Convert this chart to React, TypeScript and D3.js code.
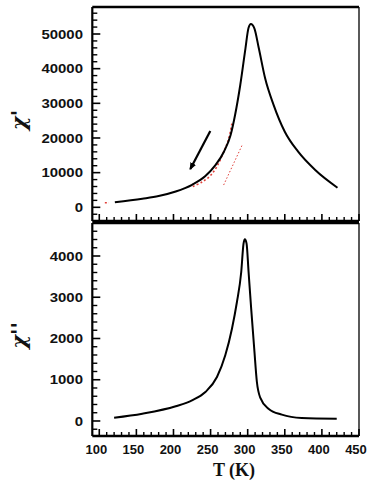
import React from 'react';
import * as d3 from 'd3';

const chi1T = [121, 158, 180, 203, 225, 243, 256, 268, 277, 283, 290, 297, 301, 304.3, 309, 315, 323.5, 335, 350, 368, 391, 421];
const chi1V = [1440, 2480, 3250, 4550, 6500, 9000, 12000, 16040, 20860, 26630, 35290, 45870, 51640, 52890, 51640, 45870, 37220, 29500, 21810, 16040, 10760, 5650];

// chi'' (imaginary part)
const chi2T = [120, 158, 203, 225, 243, 258.6, 269.8, 278.8, 285.5, 291.3, 294.4, 296.2, 298.5, 301.2, 304.7, 308.8, 312.4, 316.9, 328, 346, 372.8, 420];
const chi2V = [80, 177, 356, 501, 703, 1067, 1592, 2238, 2885, 3612, 4300, 4404, 4300, 3612, 2723, 1753, 945, 566, 299, 153, 73, 57];

// red dotted traces in the top panel
const redCurveT = [226, 238.4, 249.6, 258.6, 267.6, 274.3, 279];
const redCurveV = [6000, 7300, 9100, 11800, 16000, 19700, 24500];
const redDashT = [107.5, 113];
const redDashV = [1300, 1300];
const redLineT = [267.6, 292.2];
const redLineV = [6430, 17800];

// arrow (start -> end, head at end)
const arrowT = [249.6, 222.7];
const arrowV = [22010, 11050];

const xTicks = [100, 150, 200, 250, 300, 350, 400, 450];
const topTicks = [0, 10000, 20000, 30000, 40000, 50000];
const botTicks = [0, 1000, 2000, 3000, 4000];

const W = 374;
const H = 495;
const L = 92.3;
const R = 359;
const TOP = { y0: 7, y1: 221 };
const BOT = { y0: 223, y1: 436 };

const x = d3.scaleLinear().domain([90.6, 450]).range([L, R]);
const yTop = d3.scaleLinear().domain([-3950, 57790]).range([TOP.y1, TOP.y0]);
const yBot = d3.scaleLinear().domain([-364, 4800]).range([BOT.y1, BOT.y0]);

const zip = (a: number[], b: number[]) => a.map((t, i) => [t, b[i]] as [number, number]);

function Panel({ y, y0, y1, ticks, minorStep, label, children, showX }: any) {
  const [lo, hi] = y.domain();
  const minors = d3.range(Math.ceil(lo / minorStep) * minorStep, hi, minorStep).filter((v: number) => !ticks.includes(v));
  const xMinors = d3.range(100, 450, 10).filter((v: number) => !xTicks.includes(v));
  return (
    <g>
      {children}
      {/* left ticks */}
      {minors.map((v: number) => (
        <line key={'m' + v} x1={L} x2={L + 5} y1={y(v)} y2={y(v)} stroke="#000" strokeWidth={1.4} />
      ))}
      {ticks.map((v: number) => (
        <g key={'t' + v}>
          <line x1={L} x2={L + 8} y1={y(v)} y2={y(v)} stroke="#000" strokeWidth={1.6} />
          <text
            transform={`translate(83,${y(v)}) scale(1.15,1)`}
            dy="0.36em"
            textAnchor="end"
            fontFamily="'Liberation Sans', Arial, sans-serif"
            fontWeight="bold"
            fontSize={13}
            fill="#111"
          >
            {v}
          </text>
        </g>
      ))}
      {/* bottom ticks */}
      {xMinors.map((v: number) => (
        <line key={'xm' + v} x1={x(v)} x2={x(v)} y1={y1} y2={y1 - 4} stroke="#000" strokeWidth={1.4} />
      ))}
      {xTicks.map((v: number) => (
        <line key={'xt' + v} x1={x(v)} x2={x(v)} y1={y1} y2={y1 - 7} stroke="#000" strokeWidth={1.6} />
      ))}
      {showX &&
        xTicks.map((v: number) => (
          <text
            key={'xl' + v}
            x={x(v) - 3}
            y={454}
            textAnchor="middle"
            fontFamily="'Liberation Sans', Arial, sans-serif"
            fontWeight="bold"
            fontSize={13}
            fill="#111"
          >
            {v}
          </text>
        ))}
      {/* frame */}
      <line x1={L} x2={R} y1={y0} y2={y0} stroke="#000" strokeWidth={2.5} />
      <line x1={R} x2={R} y1={y0} y2={y1} stroke="#000" strokeWidth={1.3} />
      <line x1={L} x2={L} y1={y0} y2={y1} stroke="#000" strokeWidth={2.2} />
      <line x1={L} x2={R} y1={y1} y2={y1} stroke="#000" strokeWidth={2.5} />
      <text
        transform={`translate(26,${(y0 + y1) / 2 + 6}) rotate(-90)`}
        textAnchor="middle"
        fontFamily="'DejaVu Serif', 'Liberation Serif', serif"
        fontWeight="bold"
        fontStyle="italic"
        fontSize={21}
        fill="#111"
      >
        {label}
      </text>
    </g>
  );
}

export default function App() {
  const lineTop = d3.line<[number, number]>().x(d => x(d[0])).y(d => yTop(d[1])).curve(d3.curveMonotoneX);
  const lineBot = d3.line<[number, number]>().x(d => x(d[0])).y(d => yBot(d[1])).curve(d3.curveMonotoneX);
  const lineRed = d3.line<[number, number]>().x(d => x(d[0])).y(d => yTop(d[1])).curve(d3.curveCatmullRom);

  return (
    <svg width={W} height={H} style={{ position: 'absolute', left: 0, top: 0, background: '#fff' }}>
      <defs>
        <marker id="ah" viewBox="0 0 10 10" refX="8" refY="5" markerWidth="3.5" markerHeight="3.5" orient="auto">
          <path d="M0,1 L10,5 L0,9 z" fill="#000" />
        </marker>
      </defs>
      <rect width={W} height={H} fill="#fff" />
      <Panel y={yTop} y0={TOP.y0} y1={TOP.y1} ticks={topTicks} minorStep={2000} label={"χ'"}>
        <path d={lineRed(zip(redDashT, redDashV)) || ''} fill="none" stroke="#e0403a" strokeWidth={1.5} strokeDasharray="2,2" />
        <path d={lineRed(zip(redCurveT, redCurveV)) || ''} fill="none" stroke="#e0403a" strokeWidth={1.6} strokeDasharray="2,2.2" />
        <path d={lineRed(zip(redLineT, redLineV)) || ''} fill="none" stroke="#e0403a" strokeWidth={1} strokeDasharray="1.5,2" />
        <path d={lineTop(zip(chi1T, chi1V)) || ''} fill="none" stroke="#000" strokeWidth={2} />
        <line
          x1={x(arrowT[0])}
          y1={yTop(arrowV[0])}
          x2={x(arrowT[1])}
          y2={yTop(arrowV[1])}
          stroke="#000"
          strokeWidth={2.2}
          markerEnd="url(#ah)"
        />
      </Panel>
      <Panel y={yBot} y0={BOT.y0} y1={BOT.y1} ticks={botTicks} minorStep={200} label={"χ''"} showX>
        <path d={lineBot(zip(chi2T, chi2V)) || ''} fill="none" stroke="#000" strokeWidth={2} />
      </Panel>
      <text
        x={234}
        y={476}
        textAnchor="middle"
        fontFamily="'Liberation Serif', 'Times New Roman', serif"
        fontWeight="bold"
        fontSize={18}
        fill="#111"
      >
        T (K)
      </text>
    </svg>
  );
}
